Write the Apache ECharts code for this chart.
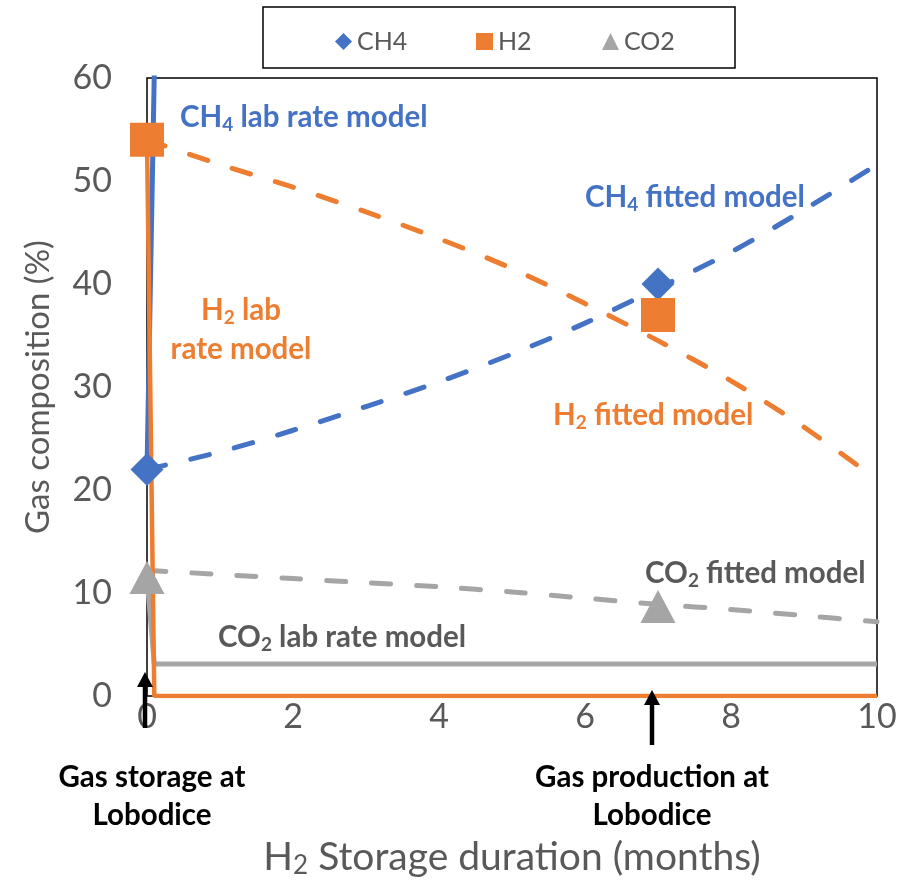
<!DOCTYPE html>
<html>
<head>
<meta charset="utf-8">
<script src="https://cdn.jsdelivr.net/npm/echarts@6/dist/echarts.min.js"></script>
<style>
  html, body { margin: 0; padding: 0; background: #ffffff; }
  #chart { width: 910px; height: 884px; }
</style>
</head>
<body>
<div id="chart"></div>
<script>
// Storage time axis (months) and fitted-model readings
const months = [0, 1, 2, 3, 4, 5, 6, 7, 8, 9, 10];
const ch4Fitted = [22.0, 23.7, 25.8, 28.1, 30.5, 33.2, 36.2, 39.6, 43.1, 47.2, 51.6];
const h2Fitted  = [54.0, 51.6, 49.4, 47.0, 44.4, 41.5, 38.1, 34.5, 30.6, 26.1, 21.0];
const co2Fitted = [12.2, 11.8, 11.4, 11.0, 10.6, 10.1, 9.5, 8.9, 8.4, 7.8, 7.2];

// Lab rate model curves: [month, %]
const ch4Lab = [[0, 22], [0.14, 76], [10, 76]];
const h2Lab  = [[0, 54], [0.1, 0], [10, 0]];
const co2Lab = [[0, 11.5], [0.1, 3.1], [10, 3.1]];

// Measured gas composition at Lobodice: [month, %]
const ch4Measured = [[0, 22], [7, 40]];
const h2Measured  = [[0, 54], [7, 37]];
const co2Measured = [[0, 11.5], [7, 8.7]];

const legendNames = ['CH4', 'H2', 'CO2'];
const xTicks = { min: 0, max: 10, interval: 2 };
const yTicks = { min: 0, max: 60, interval: 10 };

const BLUE = '#4472C4', ORANGE = '#ED7D31', GRAY = '#A5A5A5', TEXT = '#595959';
const FONT = 'Lato, "Open Sans", sans-serif';
const LABEL_SIZE = 29.5;

const pairs = (vals) => months.map((m, i) => [m, vals[i]]);

function richLabel(color, size) {
  return {
    b: { fontFamily: FONT, fontWeight: 'bold', fontSize: size, fill: color, color: color },
    s: { fontFamily: FONT, fontWeight: 'bold', fontSize: Math.round(size * 0.66), fill: color, color: color, padding: [15, 0, 0, 0] }
  };
}

function label(x, y, text, color, align) {
  return {
    type: 'text', x: x, y: y, z: 100,
    style: {
      text: text, rich: richLabel(color, LABEL_SIZE),
      fill: color, font: 'bold ' + LABEL_SIZE + 'px ' + FONT,
      align: align || 'left', verticalAlign: 'middle',
      textAlign: align || 'left', textVerticalAlign: 'middle'
    }
  };
}

function arrow(x, tipY, baseY, endY) {
  return [
    { type: 'line', z: 100, shape: { x1: x, y1: baseY - 2, x2: x, y2: endY }, style: { stroke: '#000', lineWidth: 4.5 } },
    { type: 'polygon', z: 100, shape: { points: [[x, tipY], [x - 8, baseY], [x + 8, baseY]] }, style: { fill: '#000' } }
  ];
}

function note(x, y, text) {
  return {
    type: 'text', x: x, y: y, z: 100,
    style: {
      text: text, fill: '#000', font: 'bold 29.5px ' + FONT, lineHeight: 38,
      align: 'center', verticalAlign: 'middle', textAlign: 'center', textVerticalAlign: 'middle'
    }
  };
}

function legendItem(name, left) {
  return {
    data: [name], left: left, top: 24,
    itemWidth: 17, itemHeight: 17, itemGap: 5,
    textStyle: { fontFamily: FONT, fontSize: 25, color: TEXT }
  };
}

const dashed = (color) => ({ color: color, width: 5, type: [19, 26], cap: 'round' });

const chart = echarts.init(document.getElementById('chart'), null, { renderer: 'canvas' });

chart.setOption({
  backgroundColor: '#ffffff',
  animation: false,
  textStyle: { fontFamily: FONT },
  grid: {
    left: 147, right: 33, top: 78, bottom: 187,
    show: true, borderColor: '#000', borderWidth: 1.5, backgroundColor: 'transparent'
  },
  legend: [
    legendItem(legendNames[0], 330),
    legendItem(legendNames[1], 471),
    legendItem(legendNames[2], 597)
  ],
  xAxis: {
    type: 'value', min: xTicks.min, max: xTicks.max, interval: xTicks.interval,
    axisLine: { show: false }, axisTick: { show: false }, splitLine: { show: false },
    axisLabel: { color: TEXT, fontSize: 34, fontFamily: FONT, margin: 4 },
    name: '{t|H}{s|2}{t| Storage duration (months)}',
    nameLocation: 'middle', nameGap: 139,
    nameTextStyle: {
      rich: {
        t: { fontFamily: FONT, fontSize: 39, color: TEXT },
        s: { fontFamily: FONT, fontSize: 26, color: TEXT, padding: [18, 0, 0, 0] }
      }
    }
  },
  yAxis: {
    type: 'value', min: yTicks.min, max: yTicks.max, interval: yTicks.interval,
    axisLine: { show: false }, axisTick: { show: false }, splitLine: { show: false },
    axisLabel: { color: TEXT, fontSize: 34, fontFamily: FONT, margin: 35 },
    name: 'Gas composition (%)',
    nameLocation: 'middle', nameGap: 92, nameRotate: 90,
    nameTextStyle: { fontFamily: FONT, fontSize: 33, color: TEXT }
  },
  series: [
    { name: 'CH4 fitted', type: 'line', data: pairs(ch4Fitted), smooth: 0.3, symbol: 'none', lineStyle: dashed(BLUE), z: 2 },
    { name: 'H2 fitted',  type: 'line', data: pairs(h2Fitted),  smooth: 0.3, symbol: 'none', lineStyle: dashed(ORANGE), z: 2 },
    { name: 'CO2 fitted', type: 'line', data: pairs(co2Fitted), smooth: 0.3, symbol: 'none', lineStyle: dashed(GRAY), z: 2 },
    { name: 'CH4 lab', type: 'line', data: ch4Lab, symbol: 'none', lineStyle: { color: BLUE, width: 5 }, z: 3 },
    { name: 'CO2 lab', type: 'line', data: co2Lab, symbol: 'none', lineStyle: { color: GRAY, width: 5 }, z: 3 },
    { name: 'H2 lab',  type: 'line', data: h2Lab,  symbol: 'none', lineStyle: { color: ORANGE, width: 4.5 }, z: 3 },
    { name: 'CH4', type: 'scatter', data: ch4Measured, symbol: 'diamond', symbolSize: 33, itemStyle: { color: BLUE, opacity: 1 }, z: 5 },
    { name: 'H2',  type: 'scatter', data: h2Measured,  symbol: 'rect', symbolSize: 34, itemStyle: { color: ORANGE, opacity: 1 }, z: 6 },
    { name: 'CO2', type: 'scatter', data: co2Measured, symbol: 'triangle', symbolSize: [35, 33], itemStyle: { color: GRAY, opacity: 1 }, z: 7 }
  ],
  graphic: [
    { type: 'rect', z: 100, shape: { x: 263, y: 7, width: 472, height: 61 }, style: { fill: 'none', stroke: '#000', lineWidth: 1.5 } },
    label(180, 117, '{b|CH}{s|4}{b| lab rate model}', BLUE),
    label(585, 197, '{b|CH}{s|4}{b| fitted model}', BLUE),
    label(241, 310, '{b|H}{s|2}{b| lab}', ORANGE, 'center'),
    label(241, 349, '{b|rate model}', ORANGE, 'center'),
    label(553, 415, '{b|H}{s|2}{b| fitted model}', ORANGE),
    label(645, 573, '{b|CO}{s|2}{b| fitted model}', TEXT),
    label(218, 637, '{b|CO}{s|2}{b| lab rate model}', TEXT),
    ...arrow(145, 672, 687, 728),
    ...arrow(652, 690, 705, 745),
    note(152, 796, 'Gas storage at\nLobodice'),
    note(652, 796, 'Gas production at\nLobodice')
  ]
});
</script>
</body>
</html>
